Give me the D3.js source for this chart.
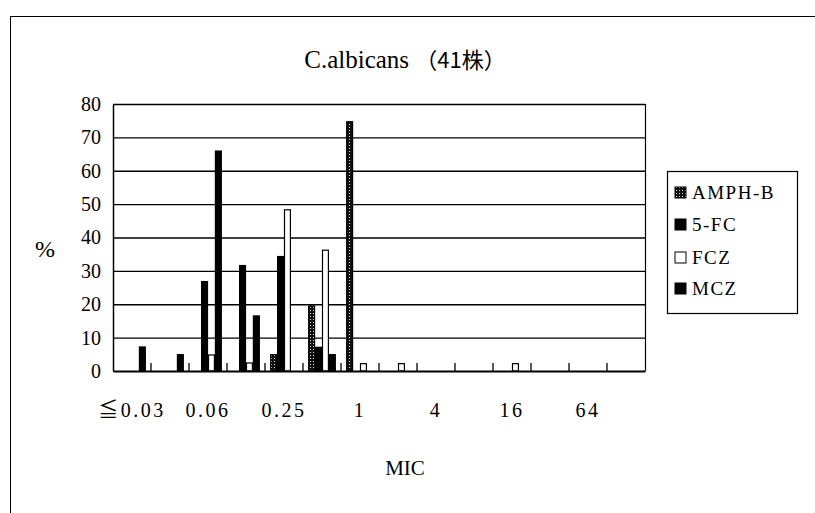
<!DOCTYPE html>
<html><head><meta charset="utf-8">
<script src="https://cdn.jsdelivr.net/npm/d3@7/dist/d3.min.js"></script>
<style>
html,body{margin:0;padding:0;background:#fff;}
svg{display:block;}
text{font-family:"Liberation Serif","Noto Sans CJK JP",serif;fill:#000;}
.ser{font-family:"Liberation Serif","Times New Roman",serif;}
.cjk{font-family:"Noto Sans CJK JP",sans-serif;}
</style></head>
<body>
<svg id="chart" width="815" height="513"></svg>
<script>
const categories = ["≦0.03","0.03","0.06","0.125","0.25","0.5","1","2","4","8","16","32","64","128"];
const tickLabels = ["≦0.03","0.06","0.25","1","4","16","64"];
const seriesNames = ["AMPH-B","5-FC","FCZ","MCZ"];
const amphB = [0,0,0,0,4.9,19.5,74.7,0,0,0,0,0,0,0];
const fc5   = [0,0,26.8,31.6,34.3,7.1,0,0,0,0,0,0,0,0];
const fcz   = [0,0,4.8,2.4,48.3,36.2,2.2,2.2,0,0,2.2,0,0,0];
const mcz   = [7.2,4.9,65.9,16.5,0,4.9,0,0,0,0,0,0,0,0];
const yTicks = [0,10,20,30,40,50,60,70,80];
const seriesValues = [amphB, fc5, fcz, mcz];

const svg = d3.select("#chart");
const defs = svg.append("defs");
const pat = defs.append("pattern").attr("id","dots").attr("patternUnits","userSpaceOnUse")
  .attr("width",3).attr("height",3);
pat.append("rect").attr("width",3).attr("height",3).attr("fill","#111");
pat.append("rect").attr("x",1).attr("y",1).attr("width",1).attr("height",1).attr("fill","#ddd");

const fills = {"AMPH-B":"url(#dots)","5-FC":"#000","FCZ":"#fff","MCZ":"#000"};

// outer frame
svg.append("rect").attr("x",10.5).attr("y",16.5).attr("width",830).attr("height",520)
  .attr("fill","none").attr("stroke","#000").attr("stroke-width",1);

const L=113, R=645, T=104, B=371;
const x = d3.scaleBand().domain(categories).range([L,R]).padding(0);
const bw = x.bandwidth();
const off = bw*0.75/5.5;
const x1 = d3.scaleBand().domain(seriesNames).range([off, bw-off]).padding(0);
const y = d3.scaleLinear().domain([0,80]).range([B,T]);

// gridlines
svg.append("g").selectAll("line").data(yTicks.filter(d=>d>0)).join("line")
  .attr("x1",L).attr("x2",R).attr("y1",d=>y(d)+0.5).attr("y2",d=>y(d)+0.5)
  .attr("stroke","#000").attr("stroke-width",1.3);
// right border
svg.append("line").attr("x1",R+0.5).attr("x2",R+0.5).attr("y1",T).attr("y2",B).attr("stroke","#000").attr("stroke-width",1.2);

// bars
const data = [];
categories.forEach((c,i)=>seriesNames.forEach((s,j)=>data.push({c,s,v:seriesValues[j][i]})));
svg.append("g").selectAll("rect").data(data.filter(d=>d.v>0)).join("rect")
  .attr("x",d=>x(d.c)+x1(d.s)+0.5)
  .attr("y",d=>y(d.v))
  .attr("width",x1.bandwidth()-1)
  .attr("height",d=>B-y(d.v))
  .attr("fill",d=>fills[d.s])
  .attr("stroke","#000").attr("stroke-width",1.2);

// y axis
const yAxis = d3.axisLeft(y).tickValues(yTicks).tickSize(0).tickPadding(12);
const gy = svg.append("g").attr("transform",`translate(${L},0)`).call(yAxis);
gy.select(".domain").attr("stroke","#000").attr("stroke-width",1.5);
gy.selectAll("text").attr("font-size",20).attr("font-family",null).attr("class","ser");

// x axis
const xAxis = d3.axisBottom(x).tickValues(tickLabels).tickSize(0).tickPadding(32);
const gx = svg.append("g").attr("transform",`translate(0,${B})`).call(xAxis);
gx.attr("font-family",null);
gx.select(".domain").attr("stroke","#000").attr("stroke-width",2.2);
gx.selectAll("text").attr("font-size",20).attr("letter-spacing",2.5);
// inward tick marks at category boundaries
svg.append("g").selectAll("line").data(categories.slice(1)).join("line")
  .attr("x1",d=>x(d)).attr("x2",d=>x(d)).attr("y1",B).attr("y2",B-8)
  .attr("stroke","#000").attr("stroke-width",1.3);

// title & labels
const title = svg.append("text").attr("x",405).attr("y",68).attr("text-anchor","middle").attr("font-size",25);
title.append("tspan").attr("class","ser").text("C.albicans ");
title.append("tspan").attr("class","cjk").attr("font-size",22).text("（41株）");
svg.append("text").attr("class","ser").attr("x",45).attr("y",257).attr("text-anchor","middle").attr("font-size",24).text("%");
svg.append("text").attr("class","ser").attr("x",405).attr("y",475).attr("text-anchor","middle").attr("font-size",21).text("MIC");

// legend
const lg = svg.append("g");
lg.append("rect").attr("x",667.5).attr("y",171.5).attr("width",130).attr("height",142)
  .attr("fill","#fff").attr("stroke","#000").attr("stroke-width",1.2);
const ly = [193,225,258,289];
seriesNames.forEach((s,i)=>{
  lg.append("rect").attr("x",675).attr("y",ly[i]-6).attr("width",11).attr("height",11)
    .attr("fill",fills[s]).attr("stroke","#000").attr("stroke-width",1);
  lg.append("text").attr("class","ser").attr("x",692).attr("y",ly[i]+6).attr("font-size",19).attr("letter-spacing",1.5).text(s);
});
</script>
</body></html>
